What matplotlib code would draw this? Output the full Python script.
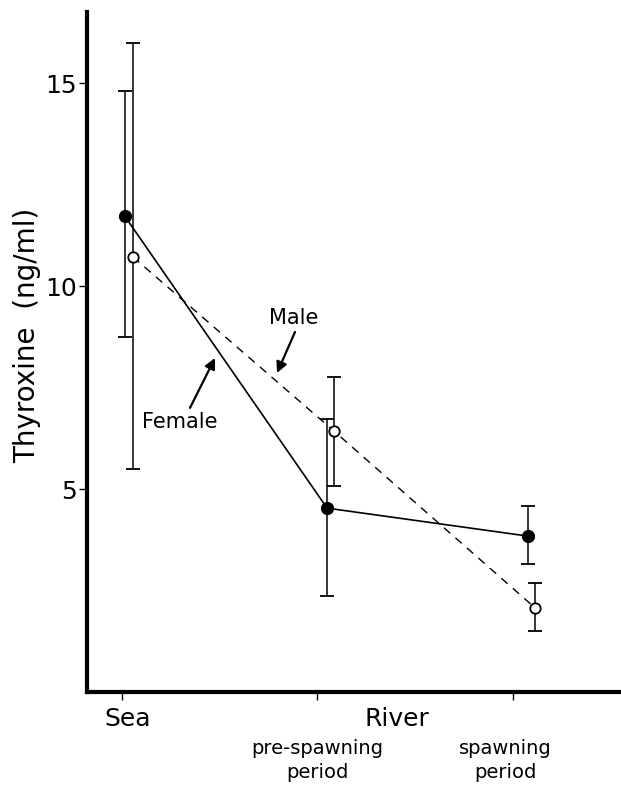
"""Plasma thyroxine in sea and river phases, female vs male."""

import matplotlib
matplotlib.use("Agg")
import matplotlib.pyplot as plt

# data (ng/ml)
stages = ["Sea", "pre-spawning\nperiod", "spawning\nperiod"]
female_x = [0.015, 1.049, 2.077]
female_y = [11.72, 4.53, 3.84]
female_hi = [14.81, 6.72, 4.58]
female_lo = [8.75, 2.36, 3.15]
male_x = [0.056, 1.084, 2.113]
male_y = [10.72, 6.43, 2.07]
male_hi = [16.0, 7.76, 2.68]
male_lo = [5.5, 5.07, 1.5]

plt.rcParams["font.family"] = ["DejaVu Sans"]

fig = plt.figure(figsize=(6.21, 7.85), dpi=100)
ax = fig.add_axes([0.140, 0.1185, 0.860, 0.866])


def err(y, lo, hi):
    return [[a - b for a, b in zip(y, lo)], [c - a for a, c in zip(y, hi)]]


ax.errorbar(female_x, female_y, yerr=err(female_y, female_lo, female_hi),
            fmt="none", ecolor="black", elinewidth=1.1, capsize=5, capthick=1.3, zorder=2)
ax.errorbar(male_x, male_y, yerr=err(male_y, male_lo, male_hi),
            fmt="none", ecolor="black", elinewidth=1.1, capsize=5, capthick=1.3, zorder=2)
ax.plot(female_x, female_y, color="black", lw=1.2, marker="o", ms=8.5,
        mfc="black", mec="black", zorder=3)
ax.plot(male_x, male_y, color="black", lw=1.0, dashes=(6, 5), marker="o", ms=7.5,
        mfc="white", mec="black", mew=1.3, zorder=3)

ax.set_xlim(-0.179, 2.552)
ax.set_ylim(0, 16.75)
ax.set_yticks([5, 10, 15])
ax.set_yticklabels(["5", "10", "15"], fontsize=18)
ax.set_xticks([0, 1, 2])
ax.set_xticklabels([])
ax.tick_params(axis="y", direction="out", length=6, width=1, pad=1)
ax.tick_params(axis="x", direction="out", length=6, width=1)
for s in ["top", "right"]:
    ax.spines[s].set_visible(False)
for s in ["left", "bottom"]:
    ax.spines[s].set_linewidth(3)

ax.text(-0.112, 0.525, "Thyroxine  (ng/ml)", transform=ax.transAxes, rotation=90,
        ha="center", va="center", fontsize=20)

# x labels
tr = ax.get_xaxis_transform()
ax.text(0.03, -0.040, "Sea", transform=tr, ha="center", va="center", fontsize=18)
ax.text(1.407, -0.040, "River", transform=tr, ha="center", va="center", fontsize=18)
for xpos, lab in zip([1.0, 1.96], stages[1:]):
    ax.text(xpos, -0.101, lab, transform=tr, ha="center", va="center",
            fontsize=14, linespacing=1.35)

# series labels with arrows
arrow = dict(arrowstyle="-|>", color="black", lw=1.6, mutation_scale=16, shrinkA=0, shrinkB=0)
ax.text(0.880, 9.21, "Male", ha="center", va="center", fontsize=15)
ax.annotate("", xy=(0.793, 7.86), xytext=(0.885, 8.87), arrowprops=arrow)
ax.text(0.297, 6.65, "Female", ha="center", va="center", fontsize=15)
ax.annotate("", xy=(0.476, 8.23), xytext=(0.348, 7.0), arrowprops=arrow)

fig.savefig("out.png", dpi=100)
